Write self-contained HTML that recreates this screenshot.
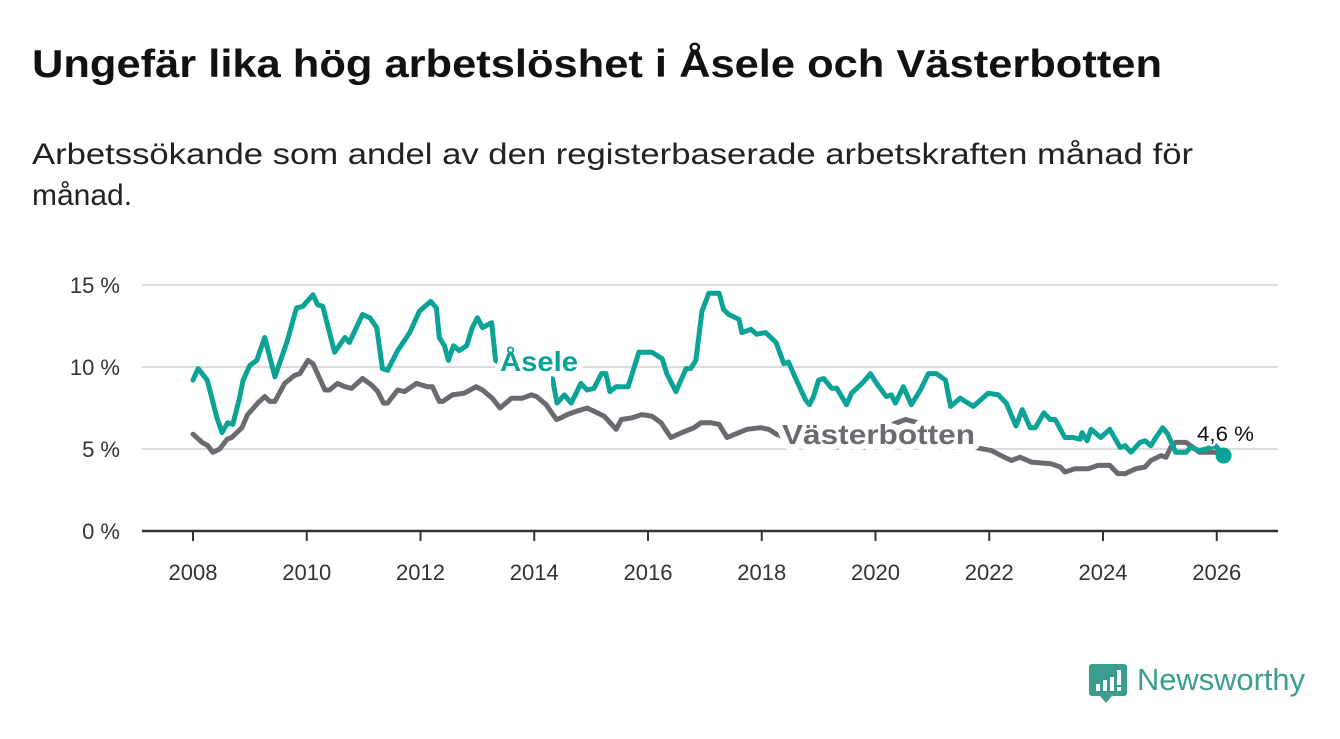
<!DOCTYPE html>
<html><head><meta charset="utf-8"><style>
body{margin:0;background:#fff;width:1340px;height:734px;overflow:hidden;font-family:"Liberation Sans",sans-serif}
</style></head><body>
<svg width="1340" height="734" xmlns="http://www.w3.org/2000/svg" font-family="Liberation Sans, sans-serif">
<text x="32" y="77" font-size="39" font-weight="bold" fill="#111" textLength="1130" lengthAdjust="spacingAndGlyphs">Ungefär lika hög arbetslöshet i Åsele och Västerbotten</text>
<text font-size="30" fill="#222"><tspan x="32" y="164" textLength="1161" lengthAdjust="spacingAndGlyphs">Arbetssökande som andel av den registerbaserade arbetskraften månad för</tspan><tspan x="32" y="205">månad.</tspan></text>
<g id="grid"></g>
<g id="axes"></g>
<g id="series"></g>
<g id="labels"></g>
<g>
<path d="M1092 664h32a3 3 0 0 1 3 3v26a3 3 0 0 1-3 3h-12l-6 7l-6-7h-8a3 3 0 0 1-3-3v-26a3 3 0 0 1 3-3z" fill="#3a9d90"/>
<rect x="1096" y="684" width="4" height="7" fill="#fff"/><rect x="1103" y="680" width="4" height="11" fill="#fff"/><rect x="1110" y="677" width="4" height="14" fill="#fff"/><rect x="1117" y="670" width="4" height="15" fill="#fff"/><rect x="1117" y="687" width="4" height="4" fill="#fff"/>
<text x="1137" y="690" font-size="31" fill="#3a9d90" textLength="168" lengthAdjust="spacingAndGlyphs">Newsworthy</text>
</g>
</svg>
<script>
const yTicks=[0,5,10,15];
const xTicks=[2008,2010,2012,2014,2016,2018,2020,2022,2024,2026];
const aseleYears=[2008.0,2008.09,2008.25,2008.42,2008.51,2008.61,2008.70,2008.81,2008.88,2009.0,2009.12,2009.26,2009.44,2009.65,2009.82,2009.93,2010.11,2010.19,2010.28,2010.49,2010.67,2010.75,2010.98,2011.11,2011.23,2011.33,2011.42,2011.60,2011.81,2011.98,2012.18,2012.28,2012.33,2012.42,2012.49,2012.58,2012.68,2012.81,2012.91,2013.0,2013.09,2013.25,2013.32,2013.6,2014.0,2014.2,2014.32,2014.40,2014.53,2014.65,2014.82,2014.93,2015.05,2015.18,2015.26,2015.33,2015.44,2015.54,2015.65,2015.84,2016.07,2016.25,2016.33,2016.49,2016.67,2016.75,2016.84,2016.95,2017.07,2017.25,2017.33,2017.42,2017.60,2017.65,2017.81,2017.91,2018.07,2018.25,2018.39,2018.47,2018.61,2018.77,2018.84,2018.91,2019.0,2019.09,2019.23,2019.32,2019.49,2019.58,2019.79,2019.91,2020.02,2020.19,2020.28,2020.35,2020.49,2020.63,2020.79,2020.93,2021.07,2021.23,2021.32,2021.49,2021.72,2021.98,2022.16,2022.30,2022.47,2022.58,2022.72,2022.81,2022.96,2023.07,2023.16,2023.33,2023.47,2023.60,2023.63,2023.72,2023.79,2023.96,2024.12,2024.30,2024.39,2024.49,2024.65,2024.74,2024.84,2024.93,2025.05,2025.14,2025.28,2025.46,2025.54,2025.70,2025.81,2025.98,2026.12];
const aseleValues=[9.2,9.9,9.2,6.9,6.0,6.6,6.5,8.0,9.2,10.1,10.4,11.8,9.4,11.5,13.6,13.7,14.4,13.8,13.7,10.9,11.8,11.5,13.2,13.0,12.4,9.9,9.8,11.0,12.1,13.4,14.0,13.6,11.8,11.3,10.4,11.3,11.0,11.3,12.4,13.0,12.4,12.7,10.4,9.8,9.4,9.6,9.3,7.8,8.3,7.8,9.0,8.6,8.7,9.6,9.6,8.5,8.8,8.8,8.8,10.9,10.9,10.5,9.6,8.5,9.9,9.9,10.4,13.4,14.5,14.5,13.5,13.2,12.9,12.1,12.3,12.0,12.1,11.5,10.2,10.3,9.2,8.0,7.7,8.2,9.2,9.3,8.7,8.7,7.7,8.4,9.1,9.6,9.0,8.2,8.3,7.8,8.8,7.7,8.6,9.6,9.6,9.2,7.6,8.1,7.6,8.4,8.3,7.8,6.4,7.4,6.3,6.3,7.2,6.8,6.8,5.7,5.7,5.6,6.0,5.5,6.2,5.7,6.2,5.1,5.2,4.8,5.4,5.5,5.2,5.7,6.3,5.9,4.8,4.8,5.1,4.9,5.0,5.2,4.6];
const vbYears=[2008.0,2008.16,2008.26,2008.35,2008.47,2008.60,2008.68,2008.86,2008.96,2009.14,2009.26,2009.35,2009.44,2009.61,2009.79,2009.88,2010.02,2010.11,2010.32,2010.40,2010.54,2010.67,2010.79,2010.98,2011.14,2011.25,2011.35,2011.42,2011.60,2011.72,2011.93,2012.12,2012.21,2012.33,2012.39,2012.56,2012.77,2012.98,2013.09,2013.26,2013.40,2013.60,2013.79,2013.95,2014.04,2014.21,2014.39,2014.47,2014.58,2014.74,2014.93,2015.05,2015.23,2015.44,2015.53,2015.72,2015.89,2016.07,2016.23,2016.40,2016.60,2016.81,2016.93,2017.11,2017.25,2017.39,2017.60,2017.74,2017.98,2018.12,2018.26,2018.5,2018.8,2019.1,2019.23,2019.5,2019.8,2020.1,2020.3,2020.53,2020.75,2021.0,2021.3,2021.55,2021.75,2022.04,2022.21,2022.39,2022.54,2022.74,2023.09,2023.25,2023.33,2023.51,2023.74,2023.91,2024.12,2024.26,2024.39,2024.58,2024.74,2024.84,2025.02,2025.11,2025.19,2025.28,2025.46,2025.70,2025.96,2026.12];
const vbValues=[5.9,5.4,5.2,4.8,5.0,5.6,5.7,6.3,7.1,7.8,8.2,7.9,7.9,9.0,9.5,9.6,10.4,10.2,8.6,8.6,9.0,8.8,8.7,9.3,8.9,8.5,7.8,7.8,8.6,8.5,9.0,8.8,8.8,7.9,7.9,8.3,8.4,8.8,8.6,8.1,7.5,8.1,8.1,8.3,8.2,7.7,6.8,6.9,7.1,7.3,7.5,7.3,7.0,6.2,6.8,6.9,7.1,7.0,6.6,5.7,6.0,6.3,6.6,6.6,6.5,5.7,6.0,6.2,6.3,6.2,5.9,5.6,5.3,5.2,5.1,5.2,5.1,5.3,6.5,6.8,6.6,6.2,5.6,5.3,5.1,4.9,4.6,4.3,4.5,4.2,4.1,3.9,3.6,3.8,3.8,4.0,4.0,3.5,3.5,3.8,3.9,4.3,4.6,4.5,5.1,5.4,5.4,4.8,4.8,4.8];
const lastLabel="4,6 %";
const NS="http://www.w3.org/2000/svg";
const X=y=>193+(y-2008)*56.875;
const Y=v=>531-v*16.4;
function mk(t,a,p){const e=document.createElementNS(NS,t);for(const k in a)e.setAttribute(k,a[k]);p.appendChild(e);return e;}
const grid=document.getElementById('grid'),axes=document.getElementById('axes'),series=document.getElementById('series'),labels=document.getElementById('labels');
yTicks.forEach(t=>{
 if(t>0){const l=mk('line',{x1:142,x2:1278,y1:Y(t),y2:Y(t),stroke:'#dcdcdc','stroke-width':2},grid);
 
 }
 const tx=mk('text',{x:120,y:Y(t)+8,'text-anchor':'end','font-size':22,fill:'#333'},axes);tx.textContent=t+' %';
 
 
});
const ax=mk('line',{x1:142,x2:1278,y1:531,y2:531,stroke:'#333','stroke-width':2.5},axes);


xTicks.forEach(t=>{
 const tk=mk('line',{x1:X(t),x2:X(t),y1:531,y2:541,stroke:'#333','stroke-width':2},axes);
 
 
 const tx=mk('text',{x:X(t),y:580,'text-anchor':'middle','font-size':22,fill:'#333'},axes);tx.textContent=t;
 
 
});
function pts(ys,vs){return ys.map((y,i)=>X(y).toFixed(1)+','+Y(vs[i]).toFixed(1)).join(' ');}
const pv=mk('polyline',{points:pts(vbYears,vbValues),fill:'none',stroke:'#6b6a70','stroke-width':5,'stroke-linejoin':'round','stroke-linecap':'round'},series);


const pa=mk('polyline',{points:pts(aseleYears,aseleValues),fill:'none',stroke:'#0aa395','stroke-width':5,'stroke-linejoin':'round','stroke-linecap':'round'},series);


const n=aseleYears.length-1;
const dot=mk('circle',{cx:X(aseleYears[n]),cy:Y(aseleValues[n]),r:8,fill:'#0aa395'},series);


function lab(x,y,txt,col,name,size,bold,w,sw){const a={x:x,y:y,'font-size':size,'font-weight':bold?'bold':'normal',fill:col,stroke:'#fff','stroke-width':sw,'paint-order':'stroke','stroke-linejoin':'round'};if(w){a.textLength=w;a.lengthAdjust='spacingAndGlyphs';}
 const t=mk('text',a,labels);t.textContent=txt;
 
 }
const mask=mk('rect',{x:498,y:338,width:53,height:46,fill:'#fff'},labels);


lab(500,371,'Åsele','#0aa395','asele-label',28,true,78,12);
lab(782,444,'Västerbotten','#6b6a70','vasterbotten-label',28,true,193,12);
lab(1197,441,lastLabel,'#111','last-value-label',21,false,57,5);
</script>
</body></html>
